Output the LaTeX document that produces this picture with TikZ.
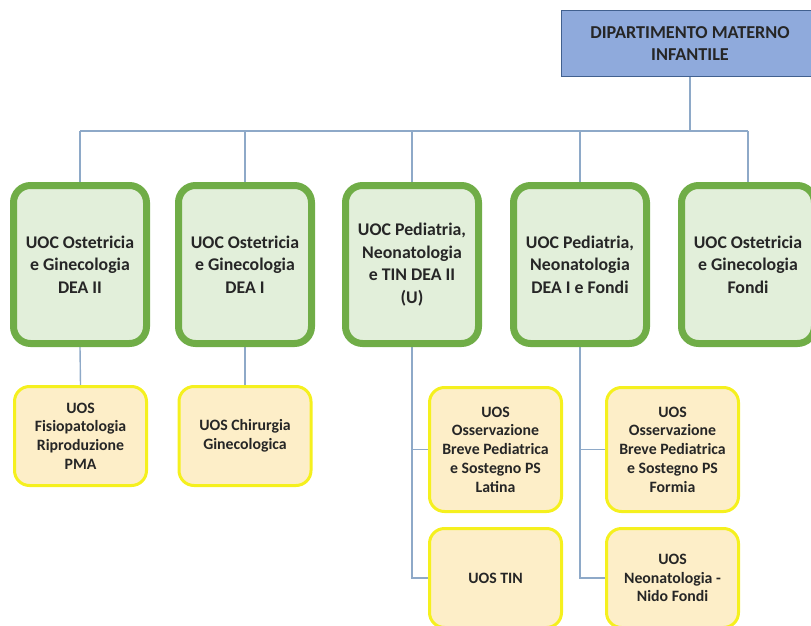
\documentclass[tikz,border=0pt]{standalone}
\usepackage{fontspec}
\setmainfont{Carlito}
\usetikzlibrary{backgrounds}
\definecolor{topfill}{HTML}{8FAADC}
\definecolor{topdraw}{HTML}{41608F}
\definecolor{gfill}{HTML}{E2EFDA}
\definecolor{gdraw}{HTML}{70AD47}
\definecolor{yfill}{HTML}{FDEEC8}
\definecolor{ydraw}{HTML}{F5F01E}
\definecolor{conncol}{HTML}{8EA9C8}
\tikzset{
  topbox/.style={draw=topdraw, fill=topfill, line width=1.5pt, minimum width=257pt, minimum height=66pt, align=center, font=\fontsize{18.2}{21.7}\selectfont\bfseries, text=black!85},
  uoc/.style={draw=gdraw, fill=gfill, line width=7pt, rounded corners=17pt, minimum width=133pt, minimum height=158pt, align=center, font=\fontsize{17.8}{22.5}\selectfont\bfseries, text=black!85},
  uos/.style={draw=ydraw, fill=yfill, line width=3pt, rounded corners=15pt, minimum width=132pt, align=center, font=\fontsize{15.8}{18.7}\selectfont\bfseries, text=black!85},
  conn/.style={draw=conncol, line width=1.4pt},
}
\begin{document}
\begin{tikzpicture}[x=1pt,y=-1pt]
\useasboundingbox (0,0) rectangle (811,626);
\node[topbox] (top) at (690,43.5) {DIPARTIMENTO MATERNO\\INFANTILE};
\node[uoc] (g1) at (80,264.5) {UOC Ostetricia\\e Ginecologia\\DEA II};
\node[uoc] (g2) at (245,264.5) {UOC Ostetricia\\e Ginecologia\\DEA I};
\node[uoc] (g3) at (412,264.5) {UOC Pediatria,\\Neonatologia\\e TIN DEA II\\(U)};
\node[uoc] (g4) at (580,264.5) {UOC Pediatria,\\Neonatologia\\DEA I e Fondi};
\node[uoc] (g5) at (748,264.5) {UOC Ostetricia\\e Ginecologia\\Fondi};
\node[uos, minimum height=99pt] (y1) at (80.5,436) {UOS\\Fisiopatologia\\Riproduzione\\PMA};
\node[uos, minimum height=99pt] (y2) at (245,436) {UOS Chirurgia\\Ginecologica};
\node[uos, minimum height=124pt] (y3) at (495.5,449.5) {UOS\\Osservazione\\Breve Pediatrica\\e Sostegno PS\\Latina};
\node[uos, minimum height=124pt] (y4) at (672.5,449.5) {UOS\\Osservazione\\Breve Pediatrica\\e Sostegno PS\\Formia};
\node[uos, minimum height=99pt] (y5) at (495.5,578) {UOS TIN};
\node[uos, minimum height=99pt] (y6) at (672.5,578) {UOS\\Neonatologia -\\Nido Fondi};
\coordinate (bus) at (0,131);
\begin{pgfonlayer}{background}
\draw[conn] (top.south) -- (top.south |- bus);
\draw[conn] (g1.north |- bus) -- (g5.north |- bus);
\foreach \g in {g1,g2,g3,g4,g5} \draw[conn] (\g.north |- bus) -- (\g.north);
\draw[conn] (g1.south) -- (y1.north);
\draw[conn] (g2.south) -- (y2.north);
\draw[conn] (g3.south) |- (y5.west);
\draw[conn] (g3.south |- y3.west) -- (y3.west);
\draw[conn] (g4.south) |- (y6.west);
\draw[conn] (g4.south |- y4.west) -- (y4.west);
\end{pgfonlayer}
\end{tikzpicture}
\end{document}
